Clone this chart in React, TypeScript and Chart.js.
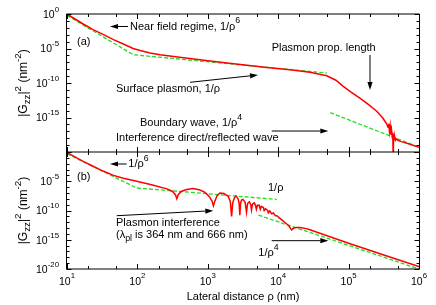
import React, { useEffect, useRef } from 'react';
import { Chart, registerables } from 'chart.js';

Chart.register(...registerables);

// ---------- Data (log10 of ρ [nm] and log10 of |Gzz|^2 [nm^-2]) ----------
// Panel (a)
const redA_logRho = [1.00, 1.09, 1.23, 1.37, 1.52, 1.66, 1.80, 1.94, 2.04, 2.18, 2.32, 2.60, 2.89, 3.03, 3.40, 3.84, 4.20, 4.45, 4.69, 4.82, 4.92, 5.04, 5.16, 5.28, 5.40, 5.48, 5.54, 5.56, 5.57, 5.58, 5.59, 5.60, 5.61, 5.62, 5.627, 5.632, 5.637, 5.645, 5.655, 5.665, 5.68, 5.70, 5.75, 5.85, 6.00];
const redA_logG = [0.00, -0.58, -1.45, -2.27, -2.99, -3.72, -4.35, -5.00, -5.30, -5.65, -5.89, -6.27, -6.62, -6.80, -7.25, -7.75, -8.10, -8.45, -8.95, -9.60, -10.45, -11.35, -12.20, -13.10, -14.10, -15.00, -15.90, -16.40, -15.90, -17.00, -16.20, -17.50, -16.80, -17.90, -17.20, -20.00, -17.40, -18.20, -17.80, -18.30, -18.10, -18.30, -18.50, -18.80, -19.30];
const greenA_near_logRho = [1.00, 1.94, 4.69];
const greenA_near_logG = [-0.20, -5.90, -8.55];
const greenA_bw_logRho = [4.74, 6.00];
const greenA_bw_logG = [-14.30, -19.30];

// Panel (b)
const redB_logRho = [1.00, 1.10, 1.23, 1.37, 1.52, 1.66, 1.80, 1.99, 2.20, 2.42, 2.50, 2.54, 2.56, 2.58, 2.62, 2.70, 2.79, 2.88, 2.96, 3.02, 3.06, 3.08, 3.10, 3.13, 3.17, 3.23, 3.29, 3.32, 3.338, 3.355, 3.38, 3.40, 3.43, 3.445, 3.455, 3.465, 3.48, 3.50, 3.53, 3.55, 3.565, 3.59, 3.61, 3.62, 3.635, 3.66, 3.68, 3.69, 3.705, 3.73, 3.745, 3.76, 3.79, 3.80, 3.82, 3.85, 3.86, 3.88, 3.91, 3.93, 3.96, 3.98, 4.02, 4.06, 4.10, 4.15, 4.19, 4.22, 4.26, 4.31, 4.40, 4.45, 5.00, 5.50, 6.00];
const redB_logG = [-0.10, -0.75, -1.60, -2.44, -3.30, -4.00, -4.50, -5.00, -5.60, -6.30, -6.75, -7.30, -8.00, -7.30, -6.75, -6.40, -6.25, -6.45, -6.90, -7.60, -8.40, -9.20, -8.40, -7.50, -7.00, -7.10, -7.60, -8.50, -11.00, -8.60, -7.80, -7.50, -8.00, -8.80, -10.80, -8.80, -8.20, -8.10, -8.60, -10.30, -8.80, -8.50, -9.00, -9.90, -8.90, -8.70, -9.20, -9.80, -9.10, -9.10, -9.80, -9.30, -9.50, -10.00, -9.70, -10.00, -10.40, -10.10, -10.60, -10.40, -10.90, -10.90, -11.30, -11.70, -12.10, -12.60, -13.30, -13.00, -12.90, -12.90, -13.10, -13.30, -15.60, -17.60, -19.60];
const greenB_near_logRho = [1.00, 1.99, 3.98];
const greenB_near_logG = [-0.30, -6.15, -8.10];
const greenB_bw_logRho = [3.72, 6.00];
const greenB_bw_logG = [-10.80, -20.00];

// Axis ticks
const xTickExps = [1, 2, 3, 4, 5, 6];
const xMinorMults = [2, 5];
const yLabelExpsA = [0, -5, -10, -15];
const yLabelExpsB = [-5, -10, -15, -20];
const yDecades = [0, -1, -2, -3, -4, -5, -6, -7, -8, -9, -10, -11, -12, -13, -14, -15, -16, -17, -18, -19, -20];

// ---------- Annotations (in data coordinates: log10 ρ, log10 G) ----------
type Seg = { t: string; s?: 'sup' | 'sub' };
type Note = { axis: 'yA' | 'yB'; lx: number; lg: number; segs: Seg[] };
type Arrow = { axis: 'yA' | 'yB'; from: [number, number]; to: [number, number] };

const notes: Note[] = [
  { axis: 'yA', lx: 1.895, lg: -1.81, segs: [{ t: 'Near field regime, 1/ρ' }, { t: '6', s: 'sup' }] },
  { axis: 'yA', lx: 1.142, lg: -4.06, segs: [{ t: '(a)' }] },
  { axis: 'yA', lx: 3.908, lg: -4.97, segs: [{ t: 'Plasmon prop. length' }] },
  { axis: 'yA', lx: 1.696, lg: -10.9, segs: [{ t: 'Surface plasmon, 1/ρ' }] },
  { axis: 'yA', lx: 2.037, lg: -15.8, segs: [{ t: 'Boundary wave, 1/ρ' }, { t: '4', s: 'sup' }] },
  { axis: 'yA', lx: 1.696, lg: -17.9, segs: [{ t: 'Interference direct/reflected wave' }] },
  { axis: 'yB', lx: 1.142, lg: -4.32, segs: [{ t: '(b)' }] },
  { axis: 'yB', lx: 1.871, lg: -2.05, segs: [{ t: '1/ρ' }, { t: '6', s: 'sup' }] },
  { axis: 'yB', lx: 1.696, lg: -12.09, segs: [{ t: 'Plasmon interference' }] },
  { axis: 'yB', lx: 1.696, lg: -14.19, segs: [{ t: '(λ' }, { t: 'pl', s: 'sub' }, { t: ' is 364 nm and 666 nm)' }] },
  { axis: 'yB', lx: 3.855, lg: -6.2, segs: [{ t: '1/ρ' }] },
  { axis: 'yB', lx: 3.717, lg: -17.3, segs: [{ t: '1/ρ' }, { t: '4', s: 'sup' }] },
];

const arrows: Arrow[] = [
  { axis: 'yA', from: [1.866, -1.81], to: [1.611, -1.81] },
  { axis: 'yA', from: [5.304, -5.94], to: [5.304, -11.0] },
  { axis: 'yA', from: [2.747, -9.9], to: [3.713, -8.84] },
  { axis: 'yA', from: [3.908, -16.96], to: [4.712, -16.96] },
  { axis: 'yB', from: [1.848, -2.05], to: [1.611, -2.05] },
  { axis: 'yB', from: [1.706, -10.89], to: [3.078, -10.03] },
  { axis: 'yB', from: [3.908, -15.16], to: [4.712, -15.16] },
];

const FONT = '"Liberation Sans", Arial, Helvetica, sans-serif';
const RED = '#ff0000';
const GREEN = '#22dd22';

function drawRich(ctx: CanvasRenderingContext2D, segs: Seg[], x: number, y: number, size: number, align: 'left' | 'center' | 'right', supScale = 0.8, supRaise = 0.5) {
  const small = size * supScale;
  ctx.textBaseline = 'middle';
  ctx.textAlign = 'left';
  const widths = segs.map((sg) => {
    ctx.font = `${sg.s ? small : size}px ${FONT}`;
    return ctx.measureText(sg.t).width;
  });
  const total = widths.reduce((a, b) => a + b, 0);
  let cx = align === 'left' ? x : align === 'center' ? x - total / 2 : x - total;
  segs.forEach((sg, i) => {
    ctx.font = `${sg.s ? small : size}px ${FONT}`;
    const dy = sg.s === 'sup' ? -size * supRaise : sg.s === 'sub' ? size * 0.3 : 0;
    ctx.fillText(sg.t, cx, y + dy);
    cx += widths[i];
  });
}

const gnuplotFrame = {
  id: 'gnuplotFrame',
  afterDraw(chart: any) {
    const ctx: CanvasRenderingContext2D = chart.ctx;
    const sx = chart.scales.x;
    const ya = chart.scales.yA;
    const yb = chart.scales.yB;
    const area = chart.chartArea;
    const X = (lx: number) => sx.getPixelForValue(Math.pow(10, lx));
    const Y = (sc: any, lg: number) => sc.getPixelForValue(Math.pow(10, lg));
    const axisOf = (id: string) => (id === 'yA' ? ya : yb);

    ctx.save();
    ctx.strokeStyle = '#000';
    ctx.fillStyle = '#000';
    ctx.lineWidth = 1;

    // Frame
    const left = area.left - 0.5;
    const right = area.right + 0.5;
    ctx.beginPath();
    ctx.moveTo(left, ya.top); ctx.lineTo(right, ya.top);
    ctx.moveTo(left, ya.bottom); ctx.lineTo(right, ya.bottom);
    ctx.moveTo(left, yb.bottom); ctx.lineTo(right, yb.bottom);
    ctx.moveTo(left, ya.top); ctx.lineTo(left, yb.bottom);
    ctx.moveTo(right, ya.top); ctx.lineTo(right, yb.bottom);
    ctx.stroke();

    // Ticks
    ctx.beginPath();
    const xTicks: { v: number; major: boolean }[] = [];
    xTickExps.forEach((e) => {
      xTicks.push({ v: e, major: true });
      if (e < 6) xMinorMults.forEach((m) => xTicks.push({ v: e + Math.log10(m), major: false }));
    });
    [ya, yb].forEach((sc) => {
      xTicks.forEach((t) => {
        const px = Math.round(X(t.v)) + 0.5;
        const len = t.major ? 5 : 3;
        ctx.moveTo(px, sc.top); ctx.lineTo(px, sc.top + len);
        ctx.moveTo(px, sc.bottom); ctx.lineTo(px, sc.bottom - len);
      });
      yDecades.forEach((d) => {
        const py = Math.round(Y(sc, d)) + 0.5;
        const len = d % 5 === 0 ? 5 : 3;
        ctx.moveTo(left, py); ctx.lineTo(left + len, py);
        ctx.moveTo(right, py); ctx.lineTo(right - len, py);
      });
    });
    ctx.stroke();

    // Tick labels
    const tickSize = 10.5;
    yLabelExpsA.forEach((e) => drawRich(ctx, [{ t: '10' }, { t: String(e), s: 'sup' }], area.left - 8, Y(ya, e) + 1, tickSize, 'right', 0.75, 0.5));
    yLabelExpsB.forEach((e) => drawRich(ctx, [{ t: '10' }, { t: String(e), s: 'sup' }], area.left - 8, Y(yb, e) + 1, tickSize, 'right', 0.75, 0.5));
    xTickExps.forEach((e) => drawRich(ctx, [{ t: '10' }, { t: String(e), s: 'sup' }], X(e), yb.bottom + 13, tickSize, 'center', 0.75, 0.55));

    // Axis titles
    const ytitle: Seg[] = [{ t: '|G' }, { t: 'zz', s: 'sub' }, { t: '|' }, { t: '2', s: 'sup' }, { t: ' (nm' }, { t: '-2', s: 'sup' }, { t: ')' }];
    [ya, yb].forEach((sc) => {
      ctx.save();
      ctx.translate(24, (sc.top + sc.bottom) / 2);
      ctx.rotate(-Math.PI / 2);
      drawRich(ctx, ytitle, 0, 0, 12, 'center', 0.82, 0.45);
      ctx.restore();
    });
    drawRich(ctx, [{ t: 'Lateral distance ρ (nm)' }], (area.left + area.right) / 2, 297, 11, 'center');

    // Annotations
    notes.forEach((n) => drawRich(ctx, n.segs, X(n.lx), Y(axisOf(n.axis), n.lg), 11, 'left'));

    // Arrows
    arrows.forEach((a) => {
      const sc = axisOf(a.axis);
      const x1 = X(a.from[0]), y1 = Y(sc, a.from[1]);
      const x2 = X(a.to[0]), y2 = Y(sc, a.to[1]);
      const ang = Math.atan2(y2 - y1, x2 - x1);
      const hl = 8, hw = 2.6;
      const bx = x2 - hl * Math.cos(ang), by = y2 - hl * Math.sin(ang);
      ctx.beginPath();
      ctx.moveTo(x1, y1); ctx.lineTo(bx, by);
      ctx.stroke();
      ctx.beginPath();
      ctx.moveTo(x2, y2);
      ctx.lineTo(bx + hw * Math.sin(ang), by - hw * Math.cos(ang));
      ctx.lineTo(bx - hw * Math.sin(ang), by + hw * Math.cos(ang));
      ctx.closePath();
      ctx.fill();
    });

    ctx.restore();
  },
};

const pts = (lx: number[], lg: number[]) => lx.map((v, i) => ({ x: Math.pow(10, v), y: Math.pow(10, lg[i]) }));

export default function App() {
  const ref = useRef<HTMLCanvasElement>(null);

  useEffect(() => {
    const canvas = ref.current;
    if (!canvas) return;
    const redStyle = { borderColor: RED, borderWidth: 1.5, pointRadius: 0, tension: 0, fill: false };
    const greenStyle = { borderColor: GREEN, borderWidth: 1.3, borderDash: [4, 2], pointRadius: 0, tension: 0, fill: false };
    const chart = new Chart(canvas, {
      type: 'line',
      data: {
        datasets: [
          { ...redStyle, data: pts(redA_logRho, redA_logG), yAxisID: 'yA' },
          { ...redStyle, data: pts(redB_logRho, redB_logG), yAxisID: 'yB' },
          { ...greenStyle, data: pts(greenA_near_logRho, greenA_near_logG), yAxisID: 'yA' },
          { ...greenStyle, data: pts(greenA_bw_logRho, greenA_bw_logG), yAxisID: 'yA' },
          { ...greenStyle, data: pts(greenB_near_logRho, greenB_near_logG), yAxisID: 'yB' },
          { ...greenStyle, data: pts(greenB_bw_logRho, greenB_bw_logG), yAxisID: 'yB' },
        ] as any,
      },
      options: {
        responsive: false,
        animation: false,
        events: [],
        layout: { padding: { left: 67, right: 17, top: 14, bottom: 36 } },
        plugins: { legend: { display: false }, tooltip: { enabled: false } },
        scales: {
          x: { type: 'logarithmic', position: 'bottom', min: 10, max: 1e6, display: false },
          yA: { type: 'logarithmic', position: 'left', min: 1e-20, max: 1, stack: 'panels', stackWeight: 138, weight: 2, display: false },
          yB: { type: 'logarithmic', position: 'left', min: 1e-20, max: 1, stack: 'panels', stackWeight: 117, weight: 1, display: false },
        } as any,
      },
      plugins: [gnuplotFrame],
    });
    return () => chart.destroy();
  }, []);

  return (
    <div style={{ position: 'fixed', left: 0, top: 0, width: 436, height: 305, background: '#fff' }}>
      <canvas ref={ref} width={436} height={305} style={{ display: 'block', width: 436, height: 305 }} />
    </div>
  );
}
